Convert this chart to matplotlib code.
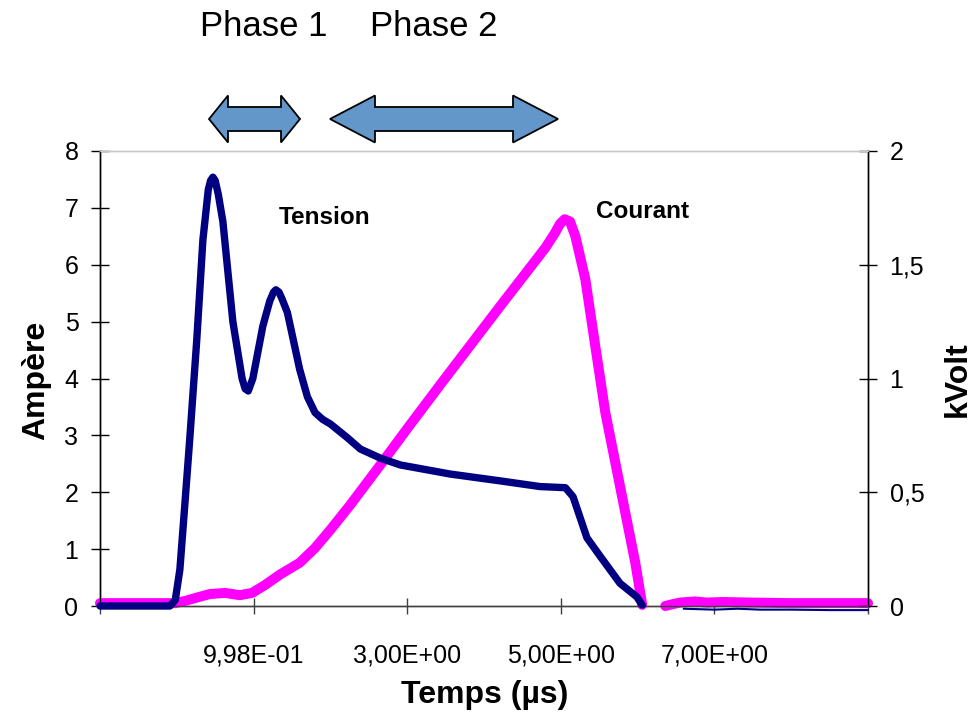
import matplotlib
matplotlib.use('Agg')
import matplotlib.pyplot as plt
from matplotlib.patches import Polygon
import numpy as np

plt.rcParams['font.family'] = ['Liberation Sans', 'DejaVu Sans']

# ---- data ----
x_ticks = [-1, 1, 3, 5, 7, 9]
x_ticklabels = ['', '9,98E-01', '3,00E+00', '5,00E+00', '7,00E+00', '']
yl_ticks = [0, 1, 2, 3, 4, 5, 6, 7, 8]
yr_ticks = [0, 0.5, 1, 1.5, 2]
yr_ticklabels = ['0', '0,5', '1', '1,5', '2']

# Courant (A) vs time (µs)
courant_t = [-1.0, -0.02, 0.11, 0.24, 0.43, 0.63, 0.82, 0.98, 1.15, 1.34, 1.60, 1.80,
             2.00, 2.26, 2.65, 3.04, 3.43, 3.82, 4.21, 4.60, 4.80, 4.92, 4.99, 5.05,
             5.12, 5.19, 5.32, 5.45, 5.58, 5.71, 5.84, 5.97, 6.06, np.nan,
             6.36, 6.45, 6.55, 6.75, 6.90, 7.10, 7.50, 8.00, 8.50, 9.00]
courant_a = [0.05, 0.05, 0.09, 0.14, 0.21, 0.23, 0.19, 0.23, 0.37, 0.55, 0.76, 1.02,
             1.34, 1.78, 2.48, 3.19, 3.89, 4.58, 5.27, 5.95, 6.30, 6.55, 6.72, 6.80,
             6.76, 6.50, 5.74, 4.56, 3.40, 2.52, 1.64, 0.76, 0.02, np.nan,
             0.00, 0.03, 0.06, 0.08, 0.06, 0.07, 0.06, 0.05, 0.05, 0.05]

# Tension (kV) vs time (µs)
tension_t = [-1.0, -0.09, -0.02, 0.04, 0.11, 0.17, 0.26, 0.34, 0.41, 0.44, 0.47, 0.50,
             0.54, 0.60, 0.73, 0.85, 0.89, 0.93, 0.99, 1.12, 1.21, 1.26, 1.29, 1.33,
             1.37, 1.44, 1.60, 1.70, 1.80, 1.90, 2.00, 2.22, 2.39, 2.65, 2.91, 3.56,
             4.21, 4.73, 5.06, 5.16, 5.34, 5.51, 5.77, 5.99, 6.06, np.nan,
             6.60, 7.00, 7.30, 7.60, 8.00, 8.50, 9.00]
tension_kv = [0.0, 0.0, 0.026, 0.16, 0.47, 0.74, 1.17, 1.61, 1.83, 1.87, 1.885, 1.87,
              1.81, 1.69, 1.25, 1.00, 0.955, 0.945, 1.00, 1.23, 1.34, 1.38, 1.39, 1.38,
              1.35, 1.29, 1.04, 0.92, 0.85, 0.82, 0.80, 0.74, 0.69, 0.65, 0.62, 0.58,
              0.55, 0.525, 0.52, 0.48, 0.30, 0.22, 0.10, 0.04, 0.004, np.nan,
              -0.012, -0.016, -0.012, -0.016, -0.016, -0.018, -0.018]

W, H = 978, 717
fig = plt.figure(figsize=(W / 100, H / 100), dpi=100)
fig.patch.set_facecolor('white')

def fx(px):
    return px / W

def fy(py):
    return 1 - py / H

ax = fig.add_axes([fx(100), fy(606), fx(868) - fx(100), fy(151) - fy(606)])
ax2 = ax.twinx()

ax.plot(courant_t, courant_a, color='#FF00FF', lw=7.2, solid_capstyle='round',
        solid_joinstyle='round', clip_on=False, zorder=3)

# tension: main pulse (thick) and tail after the gap (thin, as in the reference)
gap = int(np.where(np.isnan(tension_t))[0][0])
ax2.plot(tension_t[:gap], tension_kv[:gap], color='#000080', lw=5.3, solid_capstyle='round',
         solid_joinstyle='round', clip_on=False, zorder=3)
ax2.plot(tension_t[gap + 1:], tension_kv[gap + 1:], color='#000080', lw=1.5,
         solid_capstyle='round', solid_joinstyle='round', clip_on=False, zorder=1)

ax.set_xlim(-1, 9)
ax.set_ylim(0, 8)
ax2.set_ylim(0, 2)

ax.set_xticks(x_ticks)
ax.set_xticklabels(x_ticklabels)
ax.set_yticks(yl_ticks)
ax.set_yticklabels([str(v) for v in yl_ticks])
ax2.set_yticks(yr_ticks)
ax2.set_yticklabels(yr_ticklabels)

for a in (ax, ax2):
    a.spines['top'].set_color('#C8C8C8')
    a.spines['left'].set_color('black')
    a.spines['right'].set_color('black')
    a.spines['bottom'].set_color('#404040')
    for s in a.spines.values():
        s.set_linewidth(1.0)

ax.tick_params(axis='x', direction='inout', length=12, width=1, color='#404040',
               labelsize=18, pad=21)
ax.tick_params(axis='y', direction='inout', length=13, width=1, color='black',
               labelsize=18, pad=9)
ax2.tick_params(axis='y', direction='inout', length=13, width=1, color='black',
                labelsize=18, pad=9)

# annotations
fig.text(fx(264), fy(27), 'Phase 1', fontsize=25, ha='center', va='center')
fig.text(fx(434), fy(27), 'Phase 2', fontsize=25, ha='center', va='center')
fig.text(fx(325), fy(218), 'Tension', fontsize=17.5, fontweight='bold', ha='center', va='center')
fig.text(fx(643), fy(211), 'Courant', fontsize=17.5, fontweight='bold', ha='center', va='center')
fig.text(fx(36), fy(380), 'Ampère', fontsize=23, fontweight='bold', ha='center', va='center',
         rotation=90)
fig.text(fx(958), fy(379), 'kVolt', fontsize=23, fontweight='bold', ha='center', va='center',
         rotation=90)
fig.text(fx(485), fy(695), 'Temps (µs)', fontsize=23, fontweight='bold', ha='center', va='center')

# double arrows (figure pixel coords)
def double_arrow(x0, x1, head_len, yc=119, half_head=23.5, half_shaft=12):
    pts = [(x0, yc), (x0 + head_len, yc - half_head), (x0 + head_len, yc - half_shaft),
           (x1 - head_len, yc - half_shaft), (x1 - head_len, yc - half_head), (x1, yc),
           (x1 - head_len, yc + half_head), (x1 - head_len, yc + half_shaft),
           (x0 + head_len, yc + half_shaft), (x0 + head_len, yc + half_head)]
    poly = Polygon([(fx(px), fy(py)) for px, py in pts], closed=True,
                   transform=fig.transFigure, facecolor='#6396C9', edgecolor='black',
                   lw=1.3, joinstyle='miter')
    fig.patches.append(poly)

double_arrow(209, 300, 19)
double_arrow(330, 558, 45)

fig.savefig('out.png', dpi=100, facecolor='white')
